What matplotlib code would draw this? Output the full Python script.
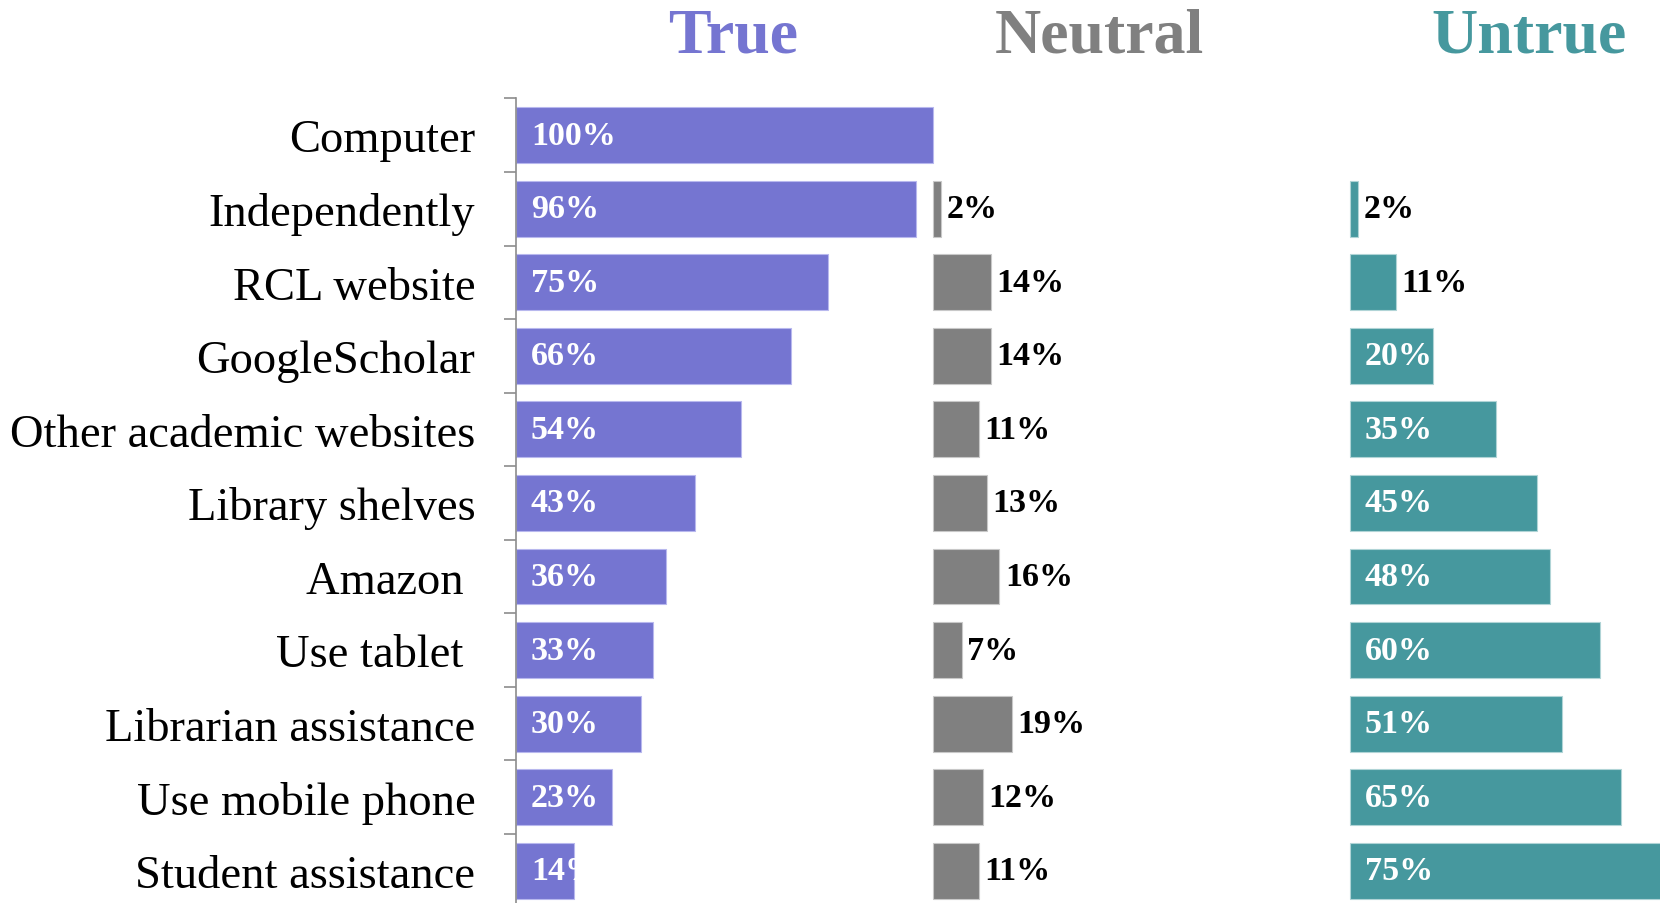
import matplotlib
matplotlib.use("Agg")
import matplotlib.pyplot as plt
import numpy as np

categories = ["Computer", "Independently", "RCL website", "GoogleScholar",
              "Other academic websites", "Library shelves", "Amazon ",
              "Use tablet ", "Librarian assistance", "Use mobile phone",
              "Student assistance"]
true_pct = [100, 96, 75, 66, 54, 43, 36, 33, 30, 23, 14]
neutral_pct = [0, 2, 14, 14, 11, 13, 16, 7, 19, 12, 11]
untrue_pct = [0, 2, 11, 20, 35, 45, 48, 60, 51, 65, 75]
headers = ["True", "Neutral", "Untrue"]

c_true = "#7575d1"
c_neutral = "#808080"
c_untrue = "#46989e"

plt.rcParams["font.family"] = ["Liberation Serif", "DejaVu Serif"]

fig = plt.figure(figsize=(16.6, 9.04), dpi=100)
ax = fig.add_axes([0.3106, -0.005, 0.6894, 0.895])

y = np.arange(len(categories))
h = 0.76


def lw(vals):
    # no outline on empty bars
    return [0.8 if v > 0 else 0 for v in vals]


ax.barh(y, true_pct, height=h, left=0, color=c_true, edgecolor="#b8b8ee", linewidth=lw(true_pct))
ax.barh(y, neutral_pct, height=h, left=100, color=c_neutral, edgecolor="#c8c8c8",
        linewidth=lw(neutral_pct))
ax.barh(y, untrue_pct, height=h, left=200, color=c_untrue, edgecolor="#b0d4d6",
        linewidth=lw(untrue_pct))

lab = dict(fontsize=24.5, fontweight="bold", va="center", textcoords="offset points")
for i in range(len(categories)):
    ax.annotate(f"{true_pct[i]}%", (0, y[i]), xytext=(11, 0), color="white", **lab)
    if neutral_pct[i] > 0:
        ax.annotate(f"{neutral_pct[i]}%", (100 + neutral_pct[i], y[i]), xytext=(4, 0),
                    color="black", **lab)
    if untrue_pct[i] > 0:
        if untrue_pct[i] >= 15:
            ax.annotate(f"{untrue_pct[i]}%", (200, y[i]), xytext=(11, 0), color="white", **lab)
        else:
            ax.annotate(f"{untrue_pct[i]}%", (200 + untrue_pct[i], y[i]), xytext=(4, 0),
                        color="black", **lab)

ax.set_xlim(0, 274.4)
ax.set_ylim(len(categories) - 0.5, -0.5)
ax.set_xticks([])
ax.set_yticks(y)
ax.set_yticklabels(categories, fontsize=33.5)
ax.tick_params(axis="y", which="major", length=0, pad=29)
ax.set_yticks(np.arange(len(categories) + 1) - 0.5, minor=True)
ax.tick_params(axis="y", which="minor", length=9, width=1.2, color="#8c8c8c")
for s in ["top", "right", "bottom"]:
    ax.spines[s].set_visible(False)
ax.spines["left"].set_color("#8c8c8c")
ax.spines["left"].set_linewidth(1.2)

hx = [0.4416, 0.662, 0.921]
hc = [c_true, c_neutral, c_untrue]
for t, x, c in zip(headers, hx, hc):
    fig.text(x, 0.958, t, ha="center", va="center", fontsize=46, fontweight="bold", color=c)

fig.savefig("out.png", dpi=100)
